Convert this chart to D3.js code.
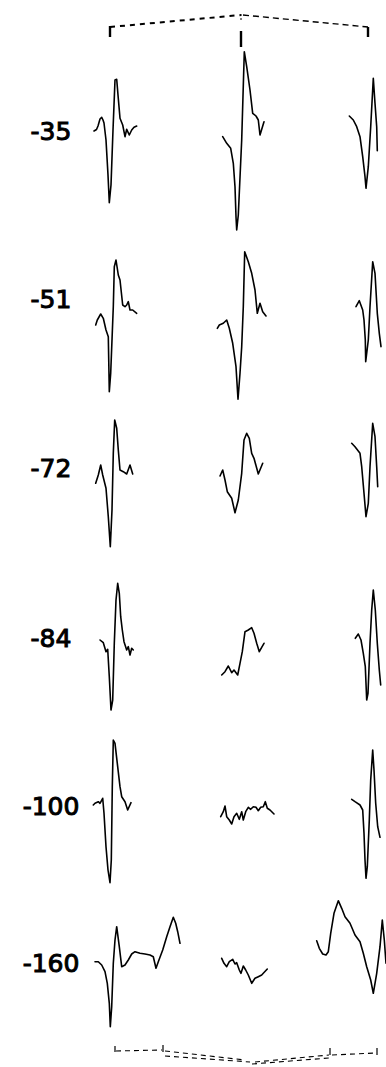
<!DOCTYPE html>
<html>
<head>
<meta charset="utf-8">
<script src="https://cdn.jsdelivr.net/npm/d3@7"></script>
<style>
  body { margin: 0; background: #fff; }
  svg { display: block; }
</style>
</head>
<body>
<div id="chart"></div>
<script>
// row labels (depth)
const depths = ["-35", "-51", "-72", "-84", "-100", "-160"];

// each trace: [t (samples), v (uV)], one per row
const col1 = [
  [[4,-1],[6.5,0.5],[8,4],[10,11],[11.7,12.7],[13,10],[14,7],[16,-10],[18,-45],[19.3,-72.7],[21,-55],[23,0],[25,50],[26.7,50.7],[28,35],[30,11.7],[32.7,5],[35,-6.7],[36.7,0.7],[39.3,-5],[41.7,0],[44,2.7],[46.7,4]],
  [[5.7,-27],[7.3,-22],[10.7,-16],[13.3,-20.3],[16,-32],[18.3,-38.7],[19.3,-93.7],[20.7,-75.3],[23.3,-8.7],[24.3,31.3],[26,38],[28.3,23],[30,18],[32.7,-7],[35,-8.7],[36.7,-7],[38.3,-3.7],[40,-12],[42.7,-12],[46.7,-15.3]],
  [[5.7,-16.3],[8.3,-8],[10.7,2],[12.7,-8],[16,-21.3],[18.3,-49.7],[20.3,-79.7],[22,-43],[23.3,13.7],[24.7,47],[26.7,38.7],[28.3,17],[30,-3],[33.3,-4.7],[36.7,-7],[40,2],[42.7,-7]],
  [[10,-3],[13.3,-5.7],[16,-14.7],[17.7,-12.3],[19.3,-39.7],[21,-73],[22.7,-63],[24.3,-6.3],[26,37],[27.7,53.7],[29.3,43.7],[30.7,20.3],[32.3,7],[34,-4.7],[36.7,-13],[38.3,-9.7],[40,-18],[41.7,-11.3],[43.3,-13]],
  [[3.3,0],[5,1.7],[8.3,3.3],[10,1.7],[12.7,6.7],[14,-8.3],[16,-41.7],[18,-65],[20,-77.7],[21.3,-55],[22.3,18.3],[23.3,65],[25,61.7],[27.3,41.7],[30,18.3],[31.7,8.3],[35,3.3],[37.7,-5],[41,2.3]],
  [[5,0.3],[8.3,0.3],[11.7,-3],[15,-9.7],[17.3,-21.3],[19.3,-41.3],[20.3,-64.7],[21.7,-44.7],[23.3,-1.3],[25,22],[26.7,35.3],[29.3,15.3],[31.7,-4.7],[35,-3],[38.3,2],[41.7,8],[45,10.3],[50,8.7],[55,8],[60,7],[63.3,5.3],[66,-6.3],[68.3,0.3],[72.7,12],[76.7,25.3],[80,35.3],[83.3,44.7],[85.7,38.7],[87.7,30.3],[90,18.7]]
];

const col2 = [
  [[7.7,-6.7],[11.7,-13.3],[15.7,-18.3],[18.3,-33.3],[20,-56.7],[21,-86.7],[21.7,-100],[23.3,-85],[26.7,-10],[29.3,78.3],[31.7,63.3],[35,40],[37.7,16.7],[41,14],[43.3,10],[45,-5],[49,8.3]],
  [[2.3,-30.3],[4.3,-27],[8.3,-25.3],[11.7,-22],[14.3,-30.3],[17.7,-45.3],[21,-68.7],[23,-101.3],[25,-75.3],[26.7,-48.7],[28.3,-8.7],[29.7,46.3],[33.3,36.3],[36.7,24.7],[40,8],[42.3,-15.3],[45,-5.3],[47.7,-13.7],[51,-18]],
  [[5,-9],[7.7,-3],[10,-13],[12.3,-24.7],[16.7,-31.3],[20,-45.7],[23.3,-33],[26.7,-6.3],[29,27],[31.7,33.7],[34.3,28.7],[36.7,13.7],[39,8.7],[43.3,-7],[47.7,3.7]],
  [[6.7,-38],[10,-34.7],[13.3,-29],[16.7,-35.7],[19,-33],[22.7,-38],[25,-26.3],[27.3,-14.7],[30,5.3],[33.3,7],[36.7,9.3],[39,3.7],[41.7,-6.3],[44.3,-14.7],[46.7,-10.3],[49,-6.3]],
  [[5.7,-11.7],[8.3,-6.7],[10,-1],[11.7,-11.7],[14.3,-15],[16.7,-19],[19,-11.7],[21.7,-8.3],[24.3,-14.3],[26.7,-6.7],[28.3,-15],[30.7,-6.7],[33.3,-2.3],[35.7,-4.3],[38.3,-1.7],[41,-2.3],[43.3,-5.7],[45.7,-2.3],[48.3,-1.7],[50.3,3.3],[52.3,-3.3],[55,-5],[59,-9]],
  [[6.7,3.7],[9,-1.3],[11.7,-4.7],[14.3,0.3],[17.7,2.7],[20,-2],[21.7,-0.7],[24.3,-8],[26,-11.3],[28.3,-4],[30.7,-8],[33.3,-13],[36.7,-21.3],[40,-16.3],[43.3,-14.7],[46.7,-13],[48.3,-11.3],[52.3,-7]]
];

const col3 = [
  [[39.3,14],[43.3,10],[46.7,3.3],[50,-6.7],[52.7,-26.7],[55,-46.7],[56,-58.3],[58.3,-36.7],[60.7,3.3],[63.3,51.7],[65,26.7],[66.7,3.3],[67.3,-20.7]],
  [[46,-8.7],[49.3,-2.7],[52.7,-12],[54,-22],[55.3,-42],[55.7,-63.7],[58.3,-42],[60,-8.7],[62.7,36.3],[65,24.7],[67.3,-15.3],[69.3,-35.3],[71,-48.7]],
  [[41.7,23.7],[45,20.3],[50,13.7],[51.7,0.3],[54,-26.3],[56,-49.7],[58.3,-36.3],[60,0.3],[62.7,43.7],[65,30.3],[66.7,0.3],[67.7,-19.7]],
  [[45.3,-1.3],[48.3,3],[51,-3],[53.3,-16.3],[55.3,-29.7],[56.7,-63],[58,-56.3],[60,-6.3],[61.7,27],[63.3,47],[65.3,27],[67.3,-6.3],[69.3,-33],[70.7,-48]],
  [[41.7,5.7],[45,3.3],[50,0],[52.7,-5],[54,-28.3],[55,-55],[56,-73.3],[57.3,-61.7],[59.3,-15],[60.7,25],[62.7,55],[64,35],[65.7,1.7],[67.7,-21.7],[70,-32.3]],
  [[6.7,21.3],[9.3,13.7],[12.7,8],[16,7],[18.3,10.3],[20.7,28.7],[24,48.7],[28.3,61.3],[31.7,53.7],[35,45.3],[40,38.7],[45,27],[50,20.3],[53.3,8.7],[56.7,-4.7],[60.7,-18],[63.3,-31.3],[66.7,-11.3],[70,15.3],[72.3,42],[74.3,22],[76,-1.3]]
];

const columns = [col1, col2, col3];

const width = 386, height = 1067;

const svg = d3.select("#chart").append("svg")
    .attr("width", width)
    .attr("height", height);

// layout scales
const colX = d3.scaleOrdinal().domain([0, 1, 2]).range([90, 215, 310]);
const rowY = d3.scaleOrdinal().domain(d3.range(depths.length)).range([130, 298, 467, 637, 805, 962]);
const t = d3.scaleLinear().domain([0, 100]).range([0, 100]);
const v = d3.scaleLinear().domain([-100, 100]).range([100, -100]);

// depth labels
svg.selectAll("text.depth")
  .data(depths)
  .enter()
  .append("text")
    .attr("class", "depth")
    .attr("x", 51)
    .attr("y", function(d, i) { return rowY(i) + 9.5; })
    .attr("text-anchor", "middle")
    .style("font-family", "DejaVu Sans")
    .style("font-size", "25px")
    .style("fill", "#000")
    .style("stroke", "#000")
    .style("stroke-width", 1)
    .text(function(d) { return d; });

// traces
columns.forEach(function(col, c) {
  const line = function(i) {
    return d3.line()
      .x(function(d) { return colX(c) + t(d[0]); })
      .y(function(d) { return rowY(i) + v(d[1]); });
  };
  svg.selectAll(".trace-c" + c)
    .data(col)
    .enter()
    .append("path")
      .attr("class", "trace-c" + c)
      .attr("d", function(d, i) { return line(i)(d); })
      .attr("fill", "none")
      .attr("stroke", "#000")
      .attr("stroke-width", 1.6)
      .attr("stroke-linejoin", "round")
      .attr("stroke-linecap", "round");
});

// brackets, placed from the column positions
function px(c, s) { return colX(c) + t(s); }

function seg(x1, y1, x2, y2, w, dash) {
  svg.append("line")
    .attr("x1", x1).attr("y1", y1).attr("x2", x2).attr("y2", y2)
    .attr("stroke", "#000")
    .attr("stroke-width", w)
    .attr("stroke-dasharray", dash || null);
}

// top
seg(px(0, 20), 27, px(1, 26), 15, 2, "5,5");
seg(px(1, 28), 15, px(2, 58), 27, 1.4, "6,4");
seg(px(0, 20), 26, px(0, 20), 37, 2.4);
seg(px(2, 58), 27, px(2, 58), 37, 2.4);
seg(px(1, 26), 14, px(1, 26), 21, 1, "2,2");
seg(px(1, 26), 31, px(1, 26), 47, 2.4);

// bottom
seg(px(0, 25), 1046, px(0, 25), 1052, 1.2);
seg(px(0, 73), 1045, px(0, 73), 1052, 1.2);
seg(px(2, 20), 1048, px(2, 20), 1055, 1.2);
seg(px(2, 67), 1048, px(2, 67), 1055, 1.2);
seg(px(0, 26), 1051, px(0, 72), 1050, 1.1, "5,4");
seg(px(0, 75), 1051, px(1, 30), 1060, 1.1, "5,4");
seg(px(0, 75), 1056, px(1, 35), 1062, 1.1, "5,4");
seg(px(1, 40), 1062, px(2, 19), 1055, 1.1, "5,4");
seg(px(1, 37), 1064, px(2, 19), 1058, 1.1, "5,4");
seg(px(2, 22), 1055, px(2, 65), 1053, 1.1, "5,4");
</script>
</body>
</html>
